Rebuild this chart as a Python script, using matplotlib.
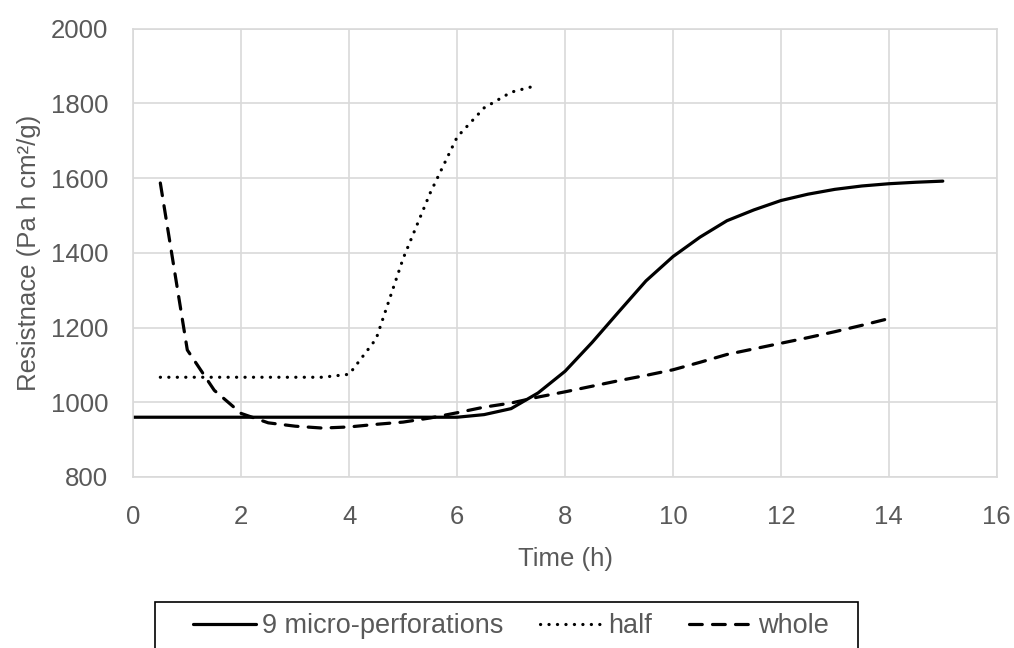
import matplotlib.pyplot as plt
from matplotlib.patches import Rectangle
import numpy as np

plt.rcParams['font.family'] = ['Liberation Sans', 'DejaVu Sans']

# time axis (h) for each series
t_perf = [0, 0.5, 1, 1.5, 2, 2.5, 3, 3.5, 4, 4.5, 5, 5.5, 6, 6.5, 7, 7.5, 8,
          8.5, 9, 9.5, 10, 10.5, 11, 11.5, 12, 12.5, 13, 13.5, 14, 14.5, 15]
r_perf = [960, 960, 960, 960, 960, 960, 960, 960, 960, 960, 960, 960, 960, 967,
          983, 1025, 1083, 1160, 1243, 1325, 1390, 1442, 1486, 1515, 1540, 1557,
          1570, 1579, 1585, 1589, 1592]

t_half = [0.5, 1, 1.5, 2, 2.5, 3, 3.5, 4, 4.5, 5, 5.5, 6, 6.5, 7, 7.5]
r_half = [1067, 1067, 1067, 1067, 1067, 1067, 1067, 1075, 1170, 1385, 1560,
          1710, 1788, 1830, 1849]

t_whole = [0.5, 1, 1.5, 2, 2.5, 3, 3.5, 4, 4.5, 5, 5.5, 6, 6.5, 7, 7.5, 8,
           8.5, 9, 9.5, 10, 10.5, 11, 11.5, 12, 12.5, 13, 13.5, 14]
r_whole = [1587, 1140, 1032, 970, 945, 936, 931, 934, 941, 947, 958, 972, 987,
           998, 1014, 1028, 1043, 1058, 1072, 1087, 1107, 1128, 1143, 1158, 1173,
           1189, 1206, 1224]

labels = ['9 micro-perforations', 'half', 'whole']

grey = '#595959'
grid = '#d9d9d9'
fs = 18.5
W, H = 1014, 648

fig = plt.figure(figsize=(W / 100, H / 100), dpi=100)
ax = fig.add_axes([0.1315, 1 - 477 / H, 0.983 - 0.1315, (477 - 28.7) / H])

lw = 2.3
ax.plot(t_perf, r_perf, color='black', lw=lw, label=labels[0],
        solid_capstyle='round', solid_joinstyle='round')
ax.plot(t_half, r_half, color='black', lw=lw, label=labels[1],
        linestyle=(0, (0.05, 2.6)), dash_capstyle='round')
ax.plot(t_whole, r_whole, color='black', lw=lw, label=labels[2],
        linestyle=(0, (4, 3.2)), dash_capstyle='round')

ax.set_xlim(0, 16)
ax.set_ylim(800, 2000)
ax.set_xticks(np.arange(0, 17, 2))
ax.set_yticks(np.arange(800, 2001, 200))
ax.grid(True, color=grid, lw=1.2)
ax.set_axisbelow(True)
for s in ax.spines.values():
    s.set_color(grid)
    s.set_linewidth(1.2)
ax.tick_params(length=0, labelsize=fs, labelcolor=grey)
ax.tick_params(axis='y', pad=18)
ax.tick_params(axis='x', pad=20)
ax.set_xlabel('Time (h)', fontsize=fs, color=grey, labelpad=13)
ax.set_ylabel('Resistnace (Pa h cm²/g)', fontsize=fs, color=grey, labelpad=7)

# legend box (Excel style, runs off the bottom edge)
fig.patches.append(Rectangle((155 / W, -0.05), (858 - 155) / W, 0.05 + 1 - 602 / H,
                             transform=fig.transFigure, fill=False,
                             edgecolor='black', lw=1.2))
leg = fig.legend(loc='center', bbox_to_anchor=(511 / W, 1 - 626 / H),
                 ncol=3, fontsize=19.5, frameon=False,
                 handlelength=2.3, columnspacing=1.37, handletextpad=0.22,
                 borderpad=0, borderaxespad=0)
for txt in leg.get_texts():
    txt.set_color(grey)

fig.savefig('out.png', dpi=100)
